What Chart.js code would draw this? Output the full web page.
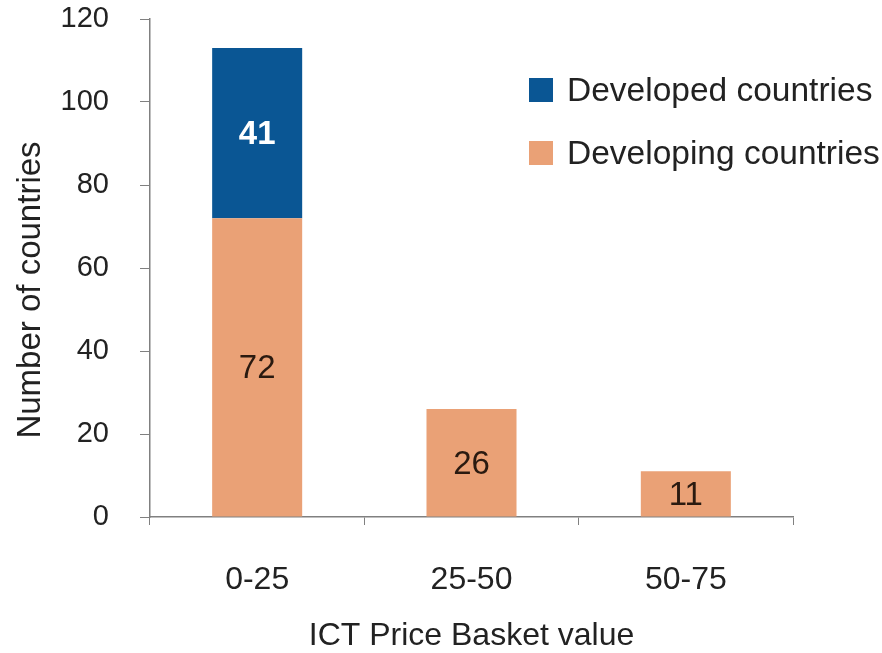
<!DOCTYPE html>
<html>
<head>
<meta charset="utf-8">
<script src="https://cdn.jsdelivr.net/npm/chart.js@4"></script>
<style>
  html, body { margin: 0; padding: 0; background: #fff; }
  #wrap { width: 882px; height: 653px; position: relative; }
</style>
</head>
<body>
<div id="wrap"><canvas id="chart"></canvas></div>
<script>
const categories = ['0-25', '25-50', '50-75'];
const developing = [72, 26, 11];
const developed = [41, null, null];
const yTicks = [0, 20, 40, 60, 80, 100, 120];
const yTitle = 'Number of countries';

const FONT = '"Liberation Sans", Arial, sans-serif';
const TEXT = '#222222';

// values written in the middle of each bar segment
const barLabels = {
  id: 'barLabels',
  afterDatasetsDraw(chart) {
    const ctx = chart.ctx;
    chart.data.datasets.forEach((ds, i) => {
      chart.getDatasetMeta(i).data.forEach((bar, j) => {
        const v = ds.data[j];
        if (v == null) return;
        ctx.save();
        ctx.font = (ds.labelBold ? 'bold ' : '') + '33px ' + FONT;
        ctx.fillStyle = ds.labelColor;
        ctx.textAlign = 'center';
        ctx.textBaseline = 'middle';
        ctx.fillText(String(v), bar.x, (bar.y + bar.base) / 2 + 2);
        ctx.restore();
      });
    });
  }
};

// legend in the upper right (developed on top) + the y axis title
const sideLegend = {
  id: 'sideLegend',
  afterDraw(chart) {
    const ctx = chart.ctx;
    const items = chart.data.datasets.slice().reverse();
    items.forEach((ds, k) => {
      const cy = 90 + k * 63;
      ctx.save();
      ctx.fillStyle = ds.backgroundColor;
      ctx.fillRect(529, cy - 12, 24, 24);
      ctx.font = '33.5px ' + FONT;
      ctx.fillStyle = TEXT;
      ctx.textBaseline = 'middle';
      ctx.fillText(ds.label, 567, cy + 2);
      ctx.restore();
    });

    ctx.save();
    ctx.translate(31, 290);
    ctx.rotate(-Math.PI / 2);
    ctx.font = '33px ' + FONT;
    ctx.fillStyle = TEXT;
    ctx.textAlign = 'center';
    ctx.textBaseline = 'middle';
    ctx.fillText(yTitle, 0, 0);
    ctx.restore();
  }
};

new Chart(document.getElementById('chart'), {
  type: 'bar',
  data: {
    labels: categories,
    datasets: [
      { label: 'Developing countries', data: developing, backgroundColor: '#EAA176',
        labelColor: '#2a1a10', labelBold: false },
      { label: 'Developed countries', data: developed, backgroundColor: '#0A5694',
        labelColor: '#ffffff', labelBold: true }
    ]
  },
  options: {
    responsive: true,
    maintainAspectRatio: false,
    animation: false,
    layout: { padding: { top: 19, right: 89, left: 0, bottom: 0 } },
    datasets: { bar: { barPercentage: 0.42, categoryPercentage: 1.0 } },
    plugins: { legend: { display: false }, tooltip: { enabled: false } },
    scales: {
      x: {
        stacked: true,
        grid: { drawOnChartArea: false, drawTicks: true, tickLength: 8, color: '#808080', offset: true },
        border: { color: '#808080', width: 1.5 },
        ticks: { color: TEXT, font: { family: FONT, size: 32 }, padding: 36, maxRotation: 0 },
        title: { display: true, text: 'ICT Price Basket value', color: TEXT,
                 font: { family: FONT, size: 32 }, padding: { top: 0, bottom: -2 } },
        afterFit(scale) {
          scale.height = 136;
          scale.paddingLeft = 0; scale.paddingRight = 0;
        }
      },
      y: {
        stacked: true,
        min: 0, max: 120,
        afterBuildTicks(scale) { scale.ticks = yTicks.map(v => ({ value: v })); },
        grid: { drawOnChartArea: false, drawTicks: true, tickLength: 10, color: '#808080' },
        border: { color: '#808080', width: 1.5 },
        ticks: { color: TEXT, font: { family: FONT, size: 29 }, padding: 31 },
        afterFit(scale) {
          scale.width = 150;
          scale.paddingTop = 0; scale.paddingBottom = 0;
        }
      }
    }
  },
  plugins: [barLabels, sideLegend]
});
</script>
</body>
</html>
